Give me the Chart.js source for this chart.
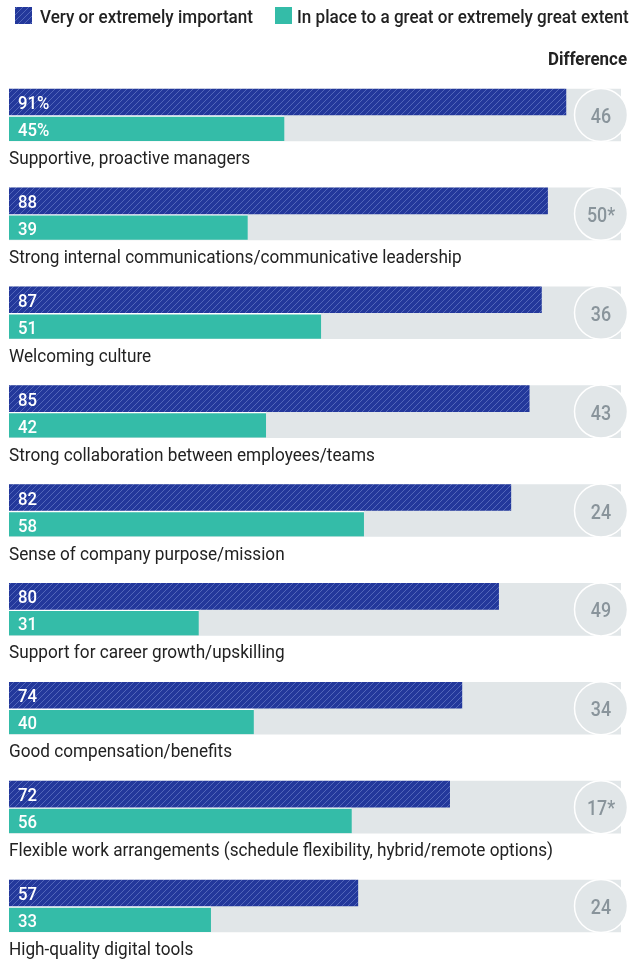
<!DOCTYPE html>
<html>
<head>
<meta charset="utf-8">
<script src="https://cdn.jsdelivr.net/npm/chart.js@4/dist/chart.umd.min.js"></script>
<style>
html,body{margin:0;padding:0;background:#fff;}
#wrap{width:642px;height:960px;}
</style>
</head>
<body>
<div id="wrap"><canvas id="c" width="642" height="960"></canvas></div>
<script>
const categories = [
  "Supportive, proactive managers",
  "Strong internal communications/communicative leadership",
  "Welcoming culture",
  "Strong collaboration between employees/teams",
  "Sense of company purpose/mission",
  "Support for career growth/upskilling",
  "Good compensation/benefits",
  "Flexible work arrangements (schedule flexibility, hybrid/remote options)",
  "High-quality digital tools"
];
const important = [91, 88, 87, 85, 82, 80, 74, 72, 57];
const inPlace = [45, 39, 51, 42, 58, 31, 40, 56, 33];
const difference = ["46", "50*", "36", "43", "24", "49", "34", "17*", "24"];
const fullScale = [100, 100, 100, 100, 100, 100, 100, 100, 100];
const seriesNames = ["Very or extremely important", "In place to a great or extremely great extent"];
const diffTitle = "Difference";

const FONT = "Roboto, 'Liberation Sans', sans-serif";
const BLUE = "#23389b";
const TEAL = "#34bca8";
const GREY = "#e1e6e8";

function hatch(){
  const p = document.createElement('canvas');
  p.width = 6; p.height = 6;
  const g = p.getContext('2d');
  g.fillStyle = BLUE; g.fillRect(0,0,6,6);
  g.strokeStyle = "rgba(130,148,215,0.5)";
  g.lineWidth = 1;
  g.beginPath();
  g.moveTo(-1,7); g.lineTo(7,-1);
  g.moveTo(-1,1); g.lineTo(1,-1);
  g.moveTo(5,7); g.lineTo(7,5);
  g.stroke();
  return document.getElementById('c').getContext('2d').createPattern(p,'repeat');
}
const pattern = hatch();

// draw horizontally condensed text (reference uses a condensed face)
function ctext(ctx, text, x, y, font, sx, align){
  ctx.save();
  ctx.font = font;
  ctx.textAlign = align || 'left';
  ctx.textBaseline = 'alphabetic';
  ctx.translate(x, y);
  ctx.scale(sx, 1);
  ctx.fillText(text, 0, 0);
  ctx.restore();
}
function fitScale(ctx, text, font, target){
  ctx.save(); ctx.font = font;
  const w = ctx.measureText(text).width;
  ctx.restore();
  return target / w;
}

const overlay = {
  id: 'overlay',
  afterDatasetsDraw(chart){
    const ctx = chart.ctx;
    const xs = chart.scales.x, ys = chart.scales.y;
    const area = chart.chartArea;
    const legFont = "500 19px " + FONT;
    const labFont = "19px " + FONT;
    const valFont = "500 18.5px " + FONT;
    const difFont = "500 21px " + FONT;
    const ttlFont = "bold 18.5px " + FONT;
    const sLeg = fitScale(ctx, seriesNames[0], legFont, 213);
    const sLab = fitScale(ctx, categories[7], labFont, 544);
    const sTtl = fitScale(ctx, diffTitle, ttlFont, 79);
    ctx.save();
    // legend
    ctx.fillStyle = pattern;
    ctx.fillRect(15, 7, 17, 17);
    ctx.fillStyle = TEAL;
    ctx.fillRect(275, 7, 17, 17);
    ctx.fillStyle = "#222";
    ctext(ctx, seriesNames[0], 40, 23, legFont, sLeg);
    ctext(ctx, seriesNames[1], 297, 23, legFont, sLeg);
    ctext(ctx, diffTitle, 627, 65, ttlFont, sTtl, 'right');

    categories.forEach((cat, i) => {
      const cy = ys.getPixelForValue(i);
      ctx.fillStyle = "#fff";
      ctext(ctx, i === 0 ? important[i] + "%" : String(important[i]), xs.left + 9, cy - 6, valFont, sLab);
      ctext(ctx, i === 0 ? inPlace[i] + "%" : String(inPlace[i]), xs.left + 9, cy + 21, valFont, sLab);
      ctx.fillStyle = "#222";
      ctext(ctx, cat, xs.left, cy + 49, labFont, sLab);
      const cx = area.right - 20;
      ctx.beginPath();
      ctx.arc(cx, cy, 26.5, 0, Math.PI * 2);
      ctx.fillStyle = GREY;
      ctx.fill();
      ctx.lineWidth = 1.5;
      ctx.strokeStyle = "#fff";
      ctx.stroke();
      ctx.fillStyle = "#89949b";
      ctext(ctx, difference[i], cx, cy + 8, difFont, 0.85, 'center');
    });
    ctx.restore();
  }
};

new Chart(document.getElementById('c'), {
  type: 'bar',
  data: {
    labels: categories,
    datasets: [
      { label: seriesNames[0], data: important, backgroundColor: pattern, barThickness: 26, order: 1 },
      { label: seriesNames[1], data: inPlace, backgroundColor: TEAL, barThickness: 26, order: 2,
        borderColor: "#fff", borderWidth: {top: 2, bottom: 0, left: 0, right: 0}, borderSkipped: false },
      { label: "bg", data: fullScale, backgroundColor: GREY, barThickness: 52, grouped: false, order: 10 }
    ]
  },
  options: {
    indexAxis: 'y',
    responsive: false,
    animation: false,
    devicePixelRatio: 1,
    layout: { padding: { left: 9, right: 21, top: 65.56, bottom: 4.56 } },
    scales: {
      x: { display: false, min: 0, max: 100 },
      y: { display: false, offset: true }
    },
    plugins: { legend: { display: false }, tooltip: { enabled: false } }
  },
  plugins: [overlay]
});
</script>
</body>
</html>
